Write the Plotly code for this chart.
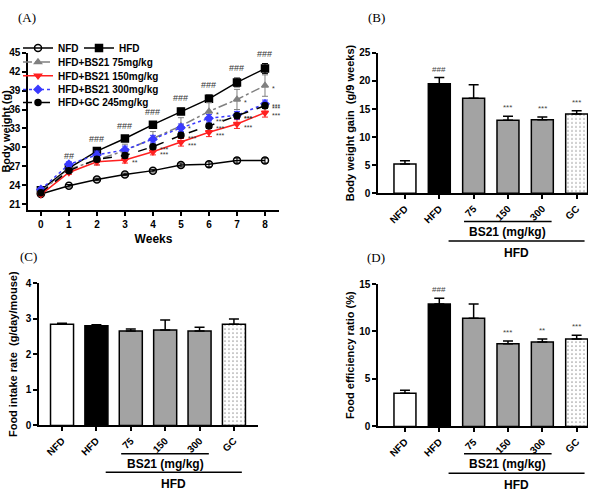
import plotly.graph_objects as go

W, H = 600, 490
def px(x): return x / W
def py(y): return 1 - y / H

# ---------------- data ----------------
weeks = [0, 1, 2, 3, 4, 5, 6, 7, 8]
nfd_bw = [22.6, 23.9, 24.9, 25.7, 26.3, 27.2, 27.3, 27.9, 27.9]
hfd_bw = [23.2, 26.7, 29.4, 31.4, 33.6, 35.7, 37.7, 40.3, 42.5]
bs75_bw = [23.0, 26.5, 28.0, 29.5, 31.4, 33.4, 35.7, 37.6, 39.8]
bs150_bw = [22.5, 26.0, 27.7, 28.0, 29.3, 30.8, 32.4, 33.7, 35.5]
bs300_bw = [23.3, 27.3, 28.8, 29.6, 31.3, 33.1, 34.6, 35.1, 36.9]
gc_bw = [22.8, 26.3, 28.1, 28.7, 30.1, 31.9, 33.4, 35.0, 36.6]

nfd_err = [0.2, 0.2, 0.2, 0.2, 0.2, 0.3, 0.4, 0.4, 0.4]
hfd_err = [0.3, 0.3, 0.4, 0.4, 0.4, 0.5, 0.6, 0.7, 0.8]
bs75_err = [0.3, 0.5, 0.8, 1.0, 1.1, 1.3, 1.4, 1.6, 1.7]
bs150_err = [0.2, 0.3, 0.5, 0.5, 0.5, 0.6, 0.7, 0.7, 0.7]
bs300_err = [0.3, 0.4, 0.6, 0.6, 0.6, 0.6, 0.6, 0.6, 0.6]
gc_err = [0.2, 0.3, 0.4, 0.4, 0.4, 0.4, 0.4, 0.4, 0.4]

hfd_sig = ["", "##", "###", "###", "###", "###", "###", "###", "###"]
# (week, series key, mark)
line_sig = [
    (3, "bs150", "**"),
    (4, "gc", "***"), (4, "bs150", "***"),
    (5, "bs75", "*"), (5, "gc", "***"), (5, "bs150", "***"),
    (6, "bs75", "*"), (6, "bs300", "***"), (6, "gc", "***"), (6, "bs150", "***"),
    (7, "bs75", "*"), (7, "bs300", "***"), (7, "gc", "***"), (7, "bs150", "***"),
    (8, "bs75", "*"), (8, "bs300", "***"), (8, "gc", "***"), (8, "bs150", "***"),
]

groups = ["NFD", "HFD", "75", "150", "300", "GC"]
gain = [5.2, 19.5, 16.9, 13.0, 13.1, 14.1]
gain_err = [0.6, 1.1, 2.4, 0.7, 0.5, 0.6]
gain_sig = ["", "###", "", "***", "***", "***"]
intake = [2.84, 2.80, 2.65, 2.68, 2.65, 2.84]
intake_err = [0.03, 0.03, 0.06, 0.28, 0.11, 0.15]
fer = [3.5, 12.9, 11.4, 8.7, 8.9, 9.2]
fer_err = [0.3, 0.6, 1.5, 0.3, 0.3, 0.4]
fer_sig = ["", "###", "", "***", "**", "***"]

bar_colors = ["white", "black", "#a3a3a3", "#a3a3a3", "#a3a3a3", "white"]
bar_patterns = ["", "", "", "", "", "."]

# ---------------- figure ----------------
FONT = "Liberation Sans, Arial, sans-serif"
fig = go.Figure()

series = {
    "nfd": dict(y=nfd_bw, e=nfd_err, name="NFD", color="black", dash="solid",
                symbol="circle-open", size=7, legend="legend"),
    "hfd": dict(y=hfd_bw, e=hfd_err, name="HFD", color="black", dash="solid",
                symbol="square", size=7, legend="legend"),
    "bs75": dict(y=bs75_bw, e=bs75_err, name="HFD+BS21 75mg/kg", color="#808080",
                 dash="dashdot", symbol="triangle-up", size=6, legend="legend2"),
    "bs150": dict(y=bs150_bw, e=bs150_err, name="HFD+BS21 150mg/kg", color="#ff2020",
                  dash="solid", symbol="triangle-down", size=6, legend="legend3"),
    "bs300": dict(y=bs300_bw, e=bs300_err, name="HFD+BS21 300mg/kg", color="#3a3aff",
                  dash="dot", symbol="diamond", size=6, legend="legend4"),
    "gc": dict(y=gc_bw, e=gc_err, name="HFD+GC 245mg/kg", color="black",
               dash="dash", symbol="circle", size=6, legend="legend5"),
}
for key in ["nfd", "hfd", "bs75", "bs150", "bs300", "gc"]:
    s = series[key]
    fig.add_trace(go.Scatter(
        x=weeks, y=s["y"], name=s["name"], legend=s["legend"],
        mode="lines+markers",
        line=dict(color=s["color"], width=1.5, dash=s["dash"]),
        marker=dict(symbol=s["symbol"], size=s["size"], color=s["color"],
                    line=dict(color=s["color"], width=1.5)),
        error_y=dict(type="data", array=s["e"], color=s["color"], thickness=1, width=3),
        xaxis="x", yaxis="y",
    ))

annotations = []
for w, v, e, t in zip(weeks, hfd_bw, hfd_err, hfd_sig):
    if t:
        annotations.append(dict(x=w, y=v + e, xref="x", yref="y", text=t, showarrow=False,
                                xanchor="center", yanchor="bottom", yshift=3,
                                font=dict(family=FONT, size=9, color="#333")))
for w, key, t in line_sig:
    v = series[key]["y"][w]
    annotations.append(dict(x=w, y=v, xref="x", yref="y", text=t, showarrow=False,
                            xanchor="left", yanchor="middle", xshift=5, yshift=-3,
                            font=dict(family=FONT, size=7, color="#333")))


def add_bars(vals, errs, ax, width):
    fig.add_trace(go.Bar(
        x=groups, y=vals, xaxis="x" + ax, yaxis="y" + ax, width=width,
        showlegend=False,
        marker=dict(color=bar_colors, line=dict(color="black", width=1.5),
                    pattern=dict(shape=bar_patterns, fgcolor="#b5b5b5", bgcolor="white",
                                 size=4, solidity=0.15)),
        error_y=dict(type="data", symmetric=False, array=errs,
                     arrayminus=[0] * len(errs), color="black", thickness=1.5, width=5),
    ))


add_bars(gain, gain_err, "2", 0.64)
add_bars(intake, intake_err, "3", 0.67)
add_bars(fer, fer_err, "4", 0.64)

for vals, errs, sig, ax in [(gain, gain_err, gain_sig, "2"), (fer, fer_err, fer_sig, "4")]:
    for i, (v, e, t) in enumerate(zip(vals, errs, sig)):
        if t:
            annotations.append(dict(x=i, y=v + e, xref="x" + ax, yref="y" + ax, text=t,
                                    showarrow=False, xanchor="center", yanchor="bottom",
                                    yshift=2, font=dict(family=FONT, size=8, color="#444")))

shapes = []
# group brackets under bar charts: (axis, y line1, y line2)
for ax, yl1, yl2 in [("2", 221, 241), ("3", 459, 478), ("4", 459, 479)]:
    shapes.append(dict(type="line", xref="x" + ax, yref="paper", x0=1.72, x1=4.27,
                       y0=py(yl1), y1=py(yl1), line=dict(color="black", width=1.5)))
    shapes.append(dict(type="line", xref="x" + ax, yref="paper", x0=1.27, x1=5.23,
                       y0=py(yl2), y1=py(yl2), line=dict(color="black", width=1.5)))
    annotations.append(dict(x=3.0, y=py(yl1 + 11), xref="x" + ax, yref="paper",
                            text="BS21 (mg/kg)", showarrow=False,
                            xanchor="center", yanchor="middle",
                            font=dict(family=FONT, size=12, color="black", weight="bold")))
    annotations.append(dict(x=3.25, y=py(yl2 + 12), xref="x" + ax, yref="paper",
                            text="HFD", showarrow=False,
                            xanchor="center", yanchor="middle",
                            font=dict(family=FONT, size=12, color="black", weight="bold")))

for lab, x, y in [("(A)", 27, 12), ("(B)", 376, 12), ("(C)", 28, 257), ("(D)", 376, 258)]:
    annotations.append(dict(x=px(x), y=py(y), xref="paper", yref="paper", text=lab,
                            showarrow=False, xanchor="center", yanchor="middle",
                            font=dict(family="Liberation Serif, Times New Roman, serif",
                                      size=13, color="black")))

tickfont = dict(family=FONT, size=10, color="black", weight="bold")
titlefont = dict(family=FONT, size=11, color="black", weight="bold")
axbase = dict(showline=True, linecolor="black", linewidth=1.5, ticks="outside",
              ticklen=4, tickwidth=1.5, tickcolor="black", showgrid=False,
              zeroline=False, tickfont=tickfont)

legfont = dict(family=FONT, size=10, color="black", weight="bold")
def leg(y, orient="v", **kw):
    d = dict(x=px(18), y=py(y), xanchor="left", yanchor="middle", orientation=orient,
             bgcolor="rgba(0,0,0,0)", font=legfont, itemwidth=30, tracegroupgap=0)
    d.update(kw)
    return d

fig.update_layout(
    width=W, height=H, margin=dict(l=0, r=0, t=0, b=0),
    paper_bgcolor="white", plot_bgcolor="white",
    xaxis=dict(axbase, domain=[px(28), px(279)], range=[-0.46, 8.5], tickvals=weeks,
               anchor="y", title=dict(text="Weeks", font=dict(titlefont, size=12), standoff=6)),
    yaxis=dict(axbase, domain=[py(209), py(48)], range=[20.07, 45],
               tickvals=[21, 24, 27, 30, 33, 36, 39, 42, 45], anchor="x",
               title=dict(text="Body weight (g)", font=titlefont, standoff=1)),
    xaxis2=dict(axbase, domain=[px(378), px(588)], range=[-0.785, 5.33], type="category",
                tickangle=-45, anchor="y2"),
    yaxis2=dict(axbase, domain=[py(192), py(48)], range=[0, 25], dtick=5, anchor="x2",
                title=dict(text="Body weight gain  (g/9 weeks)", font=titlefont, standoff=2)),
    xaxis3=dict(axbase, domain=[px(39), px(258)], range=[-0.67, 5.7], type="category",
                tickangle=-45, anchor="y3"),
    yaxis3=dict(axbase, domain=[py(430), py(284)], range=[0, 4], dtick=1, anchor="x3",
                title=dict(text="Food intake rate  (g/day/mouse)", font=titlefont, standoff=6)),
    xaxis4=dict(axbase, domain=[px(378), px(588)], range=[-0.785, 5.33], type="category",
                tickangle=-45, anchor="y4"),
    yaxis4=dict(axbase, domain=[py(431), py(285)], range=[0, 15], dtick=5, anchor="x4",
                title=dict(text="Food efficiency ratio (%)", font=titlefont, standoff=2)),
    legend=leg(43, "h", entrywidth=16, entrywidthmode="pixels"),
    legend2=leg(57.5),
    legend3=leg(71.5),
    legend4=leg(85.5),
    legend5=leg(99),
    annotations=annotations, shapes=shapes,
)

fig.write_html("out.html")
